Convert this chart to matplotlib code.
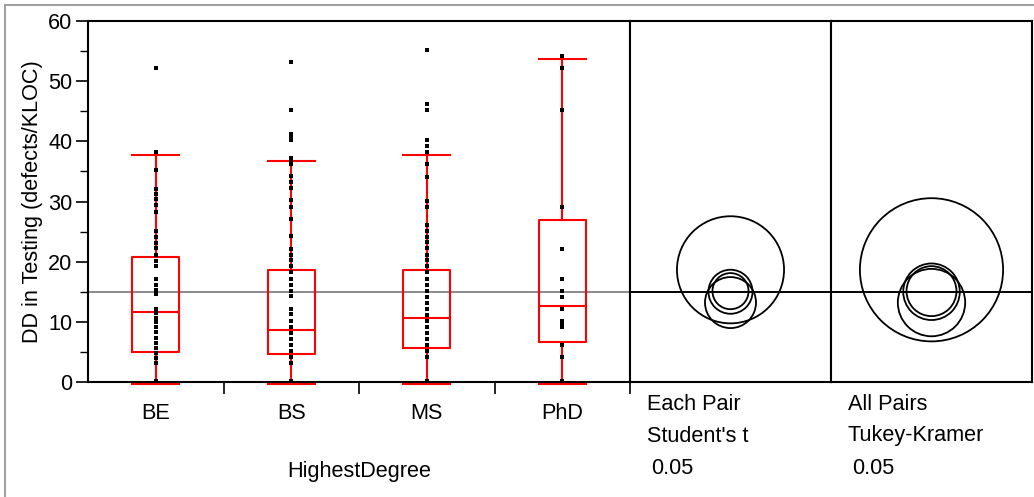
import matplotlib
matplotlib.use("Agg")
import matplotlib.pyplot as plt
from matplotlib.patches import Circle
from matplotlib.lines import Line2D
from matplotlib.ticker import FixedLocator, MultipleLocator

plt.rcParams['font.family'] = ['Liberation Sans', 'DejaVu Sans']

# ---------------- data ----------------
categories = ['BE', 'BS', 'MS', 'PhD']

be_values = [52.2, 38.2, 35.2, 32.1, 31.3, 30.4, 29.5, 28.2, 25.1, 24.1, 23.1, 22.2,
             21.1, 20.1, 19.2, 17.1, 16.1, 15.3, 14.6, 12.1, 11.4, 10.6, 10.0, 9.2,
             8.3, 7.3, 6.4, 5.7, 4.9, 4.0, 3.1, 0.2]
bs_values = [53.2, 45.2, 41.3, 40.9, 40.2, 37.2, 36.8, 36.2, 34.2, 33.2, 32.2, 30.2,
             29.1, 27.1, 24.2, 22.1, 21.1, 20.2, 19.2, 18.2, 17.2, 16.2, 15.2, 14.3,
             12.2, 11.3, 10.2, 9.2, 8.2, 7.1, 6.1, 5.2, 4.2, 3.1, 0.2]
ms_values = [55.2, 46.2, 45.2, 40.2, 39.2, 38.2, 36.2, 34.1, 30.1, 29.1, 26.1, 25.1,
             24.1, 23.2, 22.2, 21.1, 20.2, 19.2, 18.2, 17.2, 16.1, 15.2, 14.2, 13.2,
             12.2, 11.2, 10.2, 9.2, 8.2, 7.2, 6.1, 5.2, 4.1, 0.2]
phd_values = [54.2, 52.2, 45.2, 29.1, 22.1, 17.1, 15.1, 14.1, 12.1, 10.2, 9.8, 9.1,
              6.1, 4.2, 0.2]
group_values = [be_values, bs_values, ms_values, phd_values]

q1 = [5.0, 4.7, 5.6, 6.6]
medians = [11.7, 8.6, 10.6, 12.7]
q3 = [20.7, 18.6, 18.6, 26.9]
whisker_low = [-0.3, -0.3, -0.3, -0.3]
whisker_high = [37.7, 36.7, 37.7, 53.7]

grand_mean = 15.0
group_means = [15.0, 13.2, 15.1, 18.65]
student_radius = [3.66, 4.24, 3.0, 8.9]
tukey_radius = [4.7, 5.6, 4.15, 11.9]

y_label = 'DD in Testing (defects/KLOC)'
x_label = 'HighestDegree'
panel2_text = ['Each Pair', "Student's t", '0.05']
panel3_text = ['All Pairs', 'Tukey-Kramer', '0.05']

# ---------------- layout ----------------
W, H = 1034, 497
fig = plt.figure(figsize=(W / 100, H / 100), dpi=100)
fig.patch.set_facecolor('white')


def rect(x0, y0, x1, y1):
    return [x0 / W, 1 - y1 / H, (x1 - x0) / W, (y1 - y0) / H]


ax = fig.add_axes(rect(88, 21, 630, 382))
ax2 = fig.add_axes(rect(630, 21, 831, 382))
ax3 = fig.add_axes(rect(831, 21, 1032, 382))

FS = 15.6
RED = '#ff0000'

# ---------------- main panel ----------------
ax.set_xlim(-0.5, len(categories) - 0.5)
ax.set_ylim(0, 60)
ax.axhline(grand_mean, color='#8a8a8a', lw=1.4, zorder=1)

stats = []
for i, c in enumerate(categories):
    stats.append(dict(label=c, q1=q1[i], med=medians[i], q3=q3[i],
                      whislo=whisker_low[i], whishi=whisker_high[i], fliers=[]))
bp = ax.bxp(stats, positions=list(range(len(categories))), widths=0.35,
            capwidths=0.35, showfliers=False,
            boxprops=dict(color=RED, lw=1.5),
            whiskerprops=dict(color=RED, lw=1.5),
            capprops=dict(color=RED, lw=1.5),
            medianprops=dict(color=RED, lw=1.5))
for k in ('boxes', 'whiskers', 'caps', 'medians'):
    for a in bp[k]:
        a.set_clip_on(False)
        a.set_zorder(2)

for i, vals in enumerate(group_values):
    ax.plot([i] * len(vals), vals, linestyle='none', marker='s', ms=3.5,
            mfc='black', mec='black', mew=0, zorder=3, clip_on=False)

for s in ax.spines.values():
    s.set_linewidth(1.5)
    s.set_color('black')
    s.set_zorder(4)

ax.set_yticks([0, 10, 20, 30, 40, 50, 60])
ax.yaxis.set_minor_locator(MultipleLocator(5))
ax.tick_params(axis='y', which='major', length=8.6, width=1.2, pad=2.8,
               labelsize=FS, direction='out')
ax.tick_params(axis='y', which='minor', length=5.6, width=1.0, direction='out')

ax.set_xticks(list(range(len(categories))))
ax.set_xticklabels(categories)
ax.xaxis.set_minor_locator(FixedLocator([0.5, 1.5, 2.5, 3.5]))
ax.tick_params(axis='x', which='major', length=0, pad=15, labelsize=FS)
ax.tick_params(axis='x', which='minor', length=8.6, width=1.2, direction='out')

ax.set_ylabel(y_label, fontsize=FS, va='center')
ax.yaxis.set_label_coords((33 - 88) / 542, 0.5)
ax.set_xlabel(x_label, fontsize=FS, va='center')
ax.xaxis.set_label_coords(0.5, -(471 - 382) / 361)

# ---------------- comparison circle panels ----------------
for axc, radii in ((ax2, student_radius), (ax3, tukey_radius)):
    bbox = axc.get_position()
    w_px = bbox.width * W
    h_px = bbox.height * H
    half = 30.0 * w_px / h_px
    axc.set_xlim(-half, half)
    axc.set_ylim(0, 60)
    axc.set_xticks([])
    axc.set_yticks([])
    for s in axc.spines.values():
        s.set_linewidth(1.5)
        s.set_color('black')
    axc.axhline(grand_mean, color='black', lw=1.4, zorder=1)
    for m, r in zip(group_means, radii):
        axc.add_patch(Circle((0, m), r, fill=False, ec='black', lw=1.3, zorder=2))


def ftext(x, y, s):
    fig.text(x / W, 1 - y / H, s, fontsize=FS, ha='left', va='center')


for j, s in enumerate(panel2_text):
    ftext(647 if j < 2 else 651, 404 + 32 * j, s)
for j, s in enumerate(panel3_text):
    ftext(848 if j < 2 else 852, 404 + 32 * j, s)

# outer gray frame
fig.add_artist(Line2D([5 / W, 5 / W], [0, 1 - 5 / H], transform=fig.transFigure,
                      color='#a0a0a0', lw=1.5))
fig.add_artist(Line2D([5 / W, 1], [1 - 5 / H, 1 - 5 / H], transform=fig.transFigure,
                      color='#a0a0a0', lw=1.5))

fig.savefig('out.png', dpi=100, facecolor='white')
